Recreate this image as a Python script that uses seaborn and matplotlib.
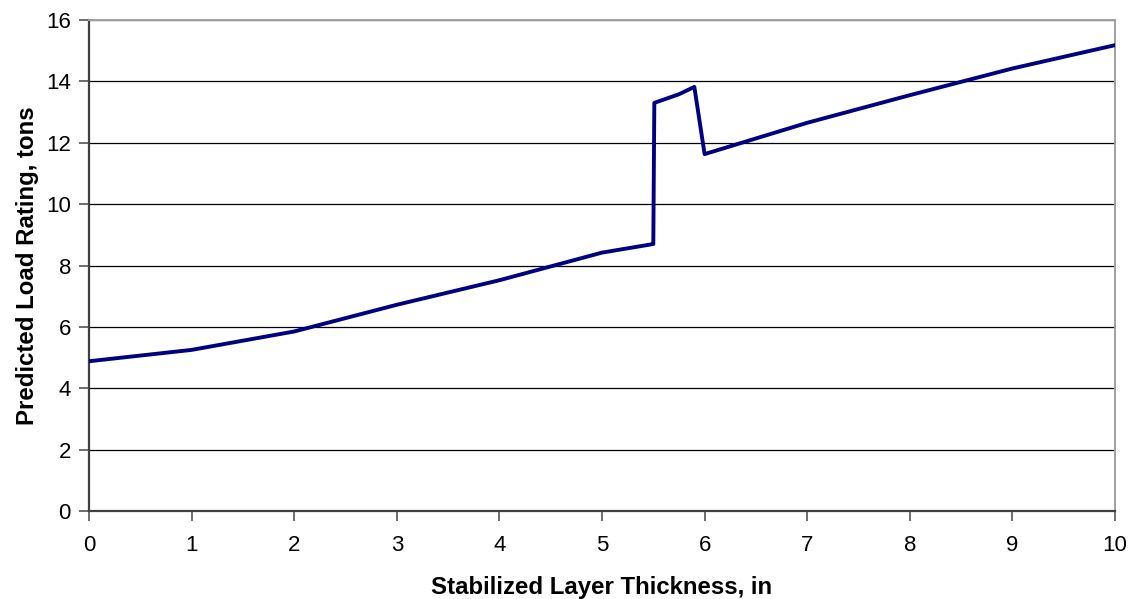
import matplotlib
matplotlib.use("Agg")
import matplotlib.pyplot as plt
import seaborn as sns
import pandas as pd

thickness = [0, 1, 2, 3, 4, 5, 5.5, 5.51, 5.75, 5.9, 6, 7, 8, 9, 10]
load_rating = [4.88, 5.25, 5.85, 6.72, 7.52, 8.42, 8.70, 13.30, 13.58, 13.82, 11.63, 12.65, 13.55, 14.42, 15.18]
x_ticks = list(range(0, 11))
y_ticks = list(range(0, 17, 2))

sns.set_style("white")
plt.rcParams['font.family'] = ['Liberation Sans', 'DejaVu Sans']
plt.rcParams['text.color'] = 'black'
plt.rcParams['axes.labelcolor'] = 'black'
plt.rcParams['xtick.color'] = 'black'
plt.rcParams['ytick.color'] = 'black'

df = pd.DataFrame({"x": thickness, "y": load_rating})

fig = plt.figure(figsize=(11.31, 5.99), dpi=100)
ax = fig.add_axes([89/1131, 1 - 511/599, (1115 - 89)/1131, (511 - 20)/599])

sns.lineplot(data=df, x="x", y="y", ax=ax, sort=False, estimator=None,
             color="#000080", linewidth=2.8, zorder=3)

ax.set_xlim(0, 10)
ax.set_ylim(0, 16)
ax.set_xticks(x_ticks)
ax.set_yticks(y_ticks)
ax.tick_params(axis="both", labelsize=16, direction="out", length=7, width=1.2,
               color="#555555", labelcolor="black", bottom=True, left=True)
ax.tick_params(axis="x", pad=10)
ax.tick_params(axis="y", pad=6)
ax.yaxis.grid(True, color="black", linewidth=0.9)
ax.xaxis.grid(False)
ax.set_axisbelow(True)

for side in ["left", "bottom"]:
    ax.spines[side].set_color("#404040")
    ax.spines[side].set_linewidth(1.6)
for side in ["top", "right"]:
    ax.spines[side].set_visible(True)
    ax.spines[side].set_color("#a0a0a0")
    ax.spines[side].set_linewidth(1.4)

ax.set_xlabel("Stabilized Layer Thickness, in", fontsize=17.3, fontweight="bold",
              labelpad=15, color="black")
ax.set_ylabel("Predicted Load Rating, tons", fontsize=17.3, fontweight="bold",
              labelpad=5, color="black")

fig.savefig("out.png", dpi=100)
